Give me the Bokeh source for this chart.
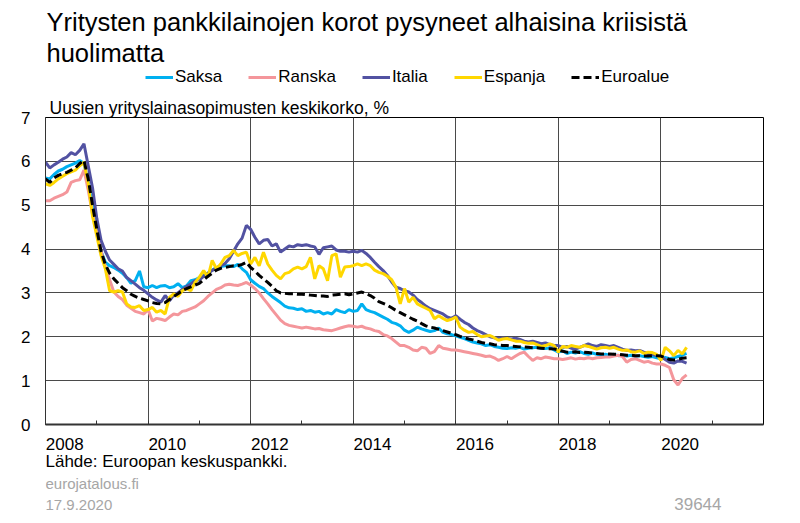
from bokeh.plotting import figure
from bokeh.models import (Range1d, FixedTicker, Label, Legend, LegendItem, Grid, Title)
from bokeh.layouts import column
from bokeh.embed import file_html
from bokeh.resources import INLINE

# Monthly data Jan 2008 - Jul 2020
start_year = 2008
saksa = [
    5.62, 5.60, 5.70, 5.78, 5.82, 5.88, 5.92, 5.96, 6.02, 5.95, 5.55, 4.95,
    4.40, 3.95, 3.70, 3.62, 3.58, 3.52, 3.45, 3.35, 3.22, 3.28, 3.50, 3.14,
    3.12, 3.17, 3.12, 3.16, 3.17, 3.12, 3.14, 3.21, 3.12, 3.16, 3.28, 3.30,
    3.35, 3.40, 3.45, 3.52, 3.58, 3.60, 3.62, 3.62, 3.60, 3.65, 3.55, 3.47,
    3.30, 3.22, 3.15, 3.10, 3.00, 2.92, 2.85, 2.78, 2.70, 2.66, 2.65, 2.62,
    2.64, 2.58, 2.60, 2.56, 2.58, 2.52, 2.55, 2.52, 2.62, 2.58, 2.55, 2.62,
    2.58, 2.60, 2.75, 2.62, 2.58, 2.55, 2.50, 2.45, 2.40, 2.33, 2.30, 2.25,
    2.15, 2.10, 2.15, 2.22, 2.18, 2.15, 2.12, 2.14, 2.20, 2.10, 2.07, 2.05,
    2.02, 1.99, 1.96, 1.92, 1.88, 1.86, 1.84, 1.80, 1.82, 1.78, 1.76, 1.74,
    1.73, 1.75, 1.74, 1.76, 1.72, 1.74, 1.75, 1.76, 1.74, 1.73, 1.75, 1.70,
    1.65, 1.68, 1.62, 1.65, 1.63, 1.66, 1.62, 1.60, 1.63, 1.60, 1.58, 1.60,
    1.58, 1.60, 1.57, 1.58, 1.56, 1.58, 1.55, 1.57, 1.55, 1.53, 1.55, 1.52,
    1.50, 1.53, 1.50, 1.52, 1.55, 1.58, 1.62,
]
ranska = [
    5.10, 5.10, 5.16, 5.20, 5.24, 5.30, 5.52, 5.56, 5.58, 5.80, 5.35, 4.80,
    4.40, 3.95, 3.60, 3.30, 3.02, 2.92, 2.85, 2.72, 2.65, 2.58, 2.55, 2.52,
    2.62, 2.36, 2.42, 2.40, 2.37, 2.45, 2.52, 2.50, 2.58, 2.60, 2.64, 2.68,
    2.75, 2.82, 2.92, 3.00, 3.08, 3.12, 3.18, 3.20, 3.18, 3.17, 3.20, 3.24,
    3.18, 3.10, 3.00, 2.87, 2.75, 2.62, 2.50, 2.38, 2.30, 2.26, 2.24, 2.22,
    2.20, 2.22, 2.20, 2.18, 2.19, 2.16, 2.15, 2.14, 2.17, 2.20, 2.23, 2.25,
    2.24, 2.22, 2.24, 2.20, 2.18, 2.14, 2.12, 2.05, 2.02, 1.96, 1.88, 1.80,
    1.80, 1.76, 1.70, 1.68, 1.76, 1.74, 1.62, 1.66, 1.80, 1.74, 1.72, 1.70,
    1.70, 1.68, 1.66, 1.64, 1.62, 1.60, 1.58, 1.55, 1.56, 1.52, 1.46, 1.50,
    1.55, 1.50, 1.56, 1.62, 1.65, 1.55, 1.46, 1.52, 1.50, 1.54, 1.52, 1.50,
    1.50, 1.48, 1.50, 1.52, 1.49, 1.51, 1.50, 1.52, 1.50, 1.52, 1.53, 1.54,
    1.54, 1.56, 1.58, 1.55, 1.42, 1.48, 1.50, 1.46, 1.42, 1.44, 1.40, 1.38,
    1.38, 1.35, 1.30, 1.02, 0.90, 1.05, 1.13,
]
italia = [
    5.98, 5.85, 5.92, 5.98, 6.05, 6.10, 6.20, 6.15, 6.25, 6.40, 5.90, 5.40,
    4.70, 4.20, 3.95, 3.75, 3.65, 3.55, 3.50, 3.35, 3.28, 3.20, 3.12, 3.06,
    2.98, 2.90, 2.84, 2.79, 2.94, 2.82, 2.95, 3.00, 3.08, 3.15, 3.20, 3.28,
    3.30, 3.38, 3.45, 3.51, 3.57, 3.62, 3.67, 3.78, 3.95, 4.12, 4.25, 4.54,
    4.45, 4.27, 4.12, 4.20, 4.22, 4.07, 4.12, 3.93, 4.00, 4.07, 4.05, 4.10,
    4.08, 4.10, 4.07, 4.05, 3.88, 4.03, 4.05, 4.07, 3.98, 3.95, 3.95, 3.93,
    3.95, 3.93, 3.97, 3.90, 3.81, 3.70, 3.60, 3.51, 3.40, 3.25, 3.13, 3.10,
    3.05, 3.02, 2.95, 2.85, 2.78, 2.70, 2.64, 2.60, 2.56, 2.52, 2.45, 2.42,
    2.48, 2.40, 2.33, 2.28, 2.20, 2.14, 2.10, 2.05, 2.00, 1.98, 1.96, 1.97,
    1.96, 1.95, 1.97, 1.94, 1.90, 1.88, 1.90, 1.87, 1.84, 1.86, 1.82, 1.80,
    1.80, 1.76, 1.78, 1.74, 1.72, 1.76, 1.80, 1.84, 1.80, 1.78, 1.82, 1.80,
    1.78, 1.80, 1.76, 1.72, 1.69, 1.70, 1.68, 1.69, 1.65, 1.62, 1.60, 1.57,
    1.55, 1.48, 1.42, 1.40, 1.45, 1.44, 1.40,
]
espanja = [
    5.49, 5.45, 5.52, 5.60, 5.66, 5.72, 5.76, 5.80, 5.90, 5.98, 5.50, 4.75,
    4.30, 3.85, 3.55, 3.05, 3.02, 3.05, 3.02, 2.75, 2.68, 2.67, 2.71, 2.60,
    2.62, 2.67, 2.56, 2.60, 2.52, 2.90, 2.98, 2.92, 3.05, 3.10, 3.05, 3.24,
    3.36, 3.51, 3.36, 3.74, 3.55, 3.66, 3.81, 3.85, 3.97, 3.85, 3.90, 3.93,
    3.66, 3.81, 3.62, 3.93, 3.66, 3.52, 3.40, 3.32, 3.44, 3.47, 3.55, 3.59,
    3.55, 3.60, 3.81, 3.32, 3.62, 3.55, 3.28, 3.85, 3.89, 3.36, 3.59, 3.60,
    3.62, 3.66, 3.62, 3.66, 3.62, 3.52, 3.47, 3.44, 3.38, 3.30, 3.13, 2.75,
    3.10, 2.79, 2.90, 2.75, 2.70, 2.65, 2.60, 2.41, 2.48, 2.42, 2.37, 2.40,
    2.45, 2.22, 2.15, 2.10, 2.12, 2.05, 2.00, 2.02, 2.03, 1.98, 1.92, 1.95,
    1.96, 1.93, 1.90, 1.90, 1.87, 1.85, 1.86, 1.82, 1.78, 1.80, 1.84, 1.80,
    1.65, 1.78, 1.76, 1.80, 1.78, 1.76, 1.80, 1.78, 1.75, 1.72, 1.75, 1.76,
    1.74, 1.76, 1.72, 1.69, 1.70, 1.66, 1.65, 1.68, 1.62, 1.65, 1.64, 1.60,
    1.46, 1.76, 1.68, 1.57, 1.69, 1.61, 1.76,
]
euroalue = [
    5.60, 5.52, 5.62, 5.68, 5.72, 5.75, 5.80, 5.85, 5.95, 6.02, 5.60, 5.00,
    4.45, 3.95, 3.65, 3.45, 3.32, 3.22, 3.12, 3.05, 2.97, 2.92, 2.88, 2.85,
    2.82, 2.78, 2.76, 2.75, 2.78, 2.85, 2.92, 2.98, 3.05, 3.10, 3.14, 3.18,
    3.22, 3.30, 3.38, 3.45, 3.52, 3.56, 3.58, 3.60, 3.62, 3.62, 3.65, 3.70,
    3.58, 3.50, 3.40, 3.32, 3.24, 3.15, 3.05, 3.00, 2.99, 2.98, 2.98, 2.97,
    2.97, 2.96, 2.95, 2.94, 2.93, 2.93, 2.92, 2.95, 2.96, 2.97, 2.98, 2.96,
    2.98, 3.00, 3.02, 2.98, 2.94, 2.88, 2.80, 2.76, 2.72, 2.66, 2.60, 2.55,
    2.50, 2.45, 2.40, 2.36, 2.30, 2.25, 2.22, 2.20, 2.17, 2.14, 2.11, 2.08,
    2.05, 2.01, 1.98, 1.95, 1.93, 1.90, 1.87, 1.85, 1.84, 1.82, 1.81, 1.80,
    1.80, 1.79, 1.78, 1.77, 1.77, 1.76, 1.75, 1.75, 1.74, 1.73, 1.73, 1.72,
    1.70, 1.67, 1.65, 1.65, 1.66, 1.64, 1.65, 1.64, 1.63, 1.62, 1.61, 1.61,
    1.61, 1.60, 1.60, 1.59, 1.58, 1.58, 1.57, 1.57, 1.56, 1.56, 1.57, 1.57,
    1.56, 1.52, 1.48, 1.47, 1.49, 1.51, 1.52,
]
series_names = ["Saksa", "Ranska", "Italia", "Espanja", "Euroalue"]
label_years = [2008, 2010, 2012, 2014, 2016, 2018, 2020]
y_ticks = [0, 1, 2, 3, 4, 5, 6, 7]

title_lines = ["Yritysten pankkilainojen korot pysyneet alhaisina kriisistä", "huolimatta"]
subtitle = "Uusien yrityslainasopimusten keskikorko, %"
source = "Lähde: Euroopan keskuspankki."
site = "eurojatalous.fi"
date = "17.9.2020"
chart_id = "39644"

FONT = "Liberation Sans"
colors = ["#00B0F0", "#F4969B", "#5252A2", "#FFD700", "black"]
dashes = ["solid", "solid", "solid", "solid", "8 4"]
data = [saksa, ranska, italia, espanja, euroalue]
x = [start_year + i / 12 for i in range(len(euroalue))]

W = 800
LEFT, RIGHT = 45, 37
TOP_H = 87
MAIN_TOP = 30
FRAME_H = 307
MAIN_BOT = 27
MAIN_H = MAIN_TOP + FRAME_H + MAIN_BOT
BOT_H = 523 - TOP_H - MAIN_H


def blank_fig(h):
    f = figure(width=W, height=h, output_backend="svg", toolbar_location=None,
               x_range=Range1d(0, 1), y_range=Range1d(0, 1),
               x_axis_type=None, y_axis_type=None,
               min_border_left=LEFT, min_border_right=RIGHT, min_border_top=0,
               min_border_bottom=0)
    f.outline_line_color = None
    f.grid.visible = False
    f.background_fill_color = "white"
    f.border_fill_color = "white"
    return f


def lab(f, text, xo, base_from_bottom, size, color="black", align="left"):
    # empirical shift so that the alphabetic baseline lands where wanted
    px = float(size.replace("px", ""))
    f.add_layout(Label(x=xo - LEFT, y=base_from_bottom + 0.42 * px,
                       x_units="screen", y_units="screen",
                       text=text, text_font=FONT, text_font_size=size,
                       text_color=color, text_align=align,
                       text_baseline="alphabetic"))


# ---------- top: title + legend ----------
top = blank_fig(TOP_H)
lab(top, title_lines[0], 46, TOP_H - 32, "25.5px")
lab(top, title_lines[1], 46, TOP_H - 63, "25.5px")

items = []
for name, col, d, ys in zip(series_names, colors, dashes, data):
    # series lie outside this strip's ranges: only the legend glyph shows
    r = top.line(x, ys, line_color=col, line_width=3, line_dash=d)
    items.append(LegendItem(label=name, renderers=[r]))
legend = Legend(items=items, orientation="horizontal", location=(145 - LEFT, 0),
                glyph_width=28, glyph_height=16, label_height=16,
                label_standoff=2, spacing=26, padding=0, margin=0,
                border_line_color=None, background_fill_alpha=0,
                label_text_font=FONT, label_text_font_size="17px",
                label_text_color="black")
top.add_layout(legend, "center")

# ---------- main chart ----------
p = figure(width=W, height=MAIN_H, frame_width=718, frame_height=FRAME_H,
           output_backend="svg", toolbar_location=None,
           x_range=Range1d(2008, 2022), y_range=Range1d(0, 7),
           min_border_left=LEFT, min_border_right=RIGHT, min_border_top=MAIN_TOP,
           min_border_bottom=MAIN_BOT)
p.background_fill_color = "white"
p.border_fill_color = "white"
p.outline_line_color = "black"
p.outline_line_width = 1
p.title.visible = False
p.add_layout(Title(text=subtitle, align="left", offset=4, standoff=0,
                   text_font=FONT, text_font_size="17.5px",
                   text_font_style="normal", text_color="black"), "above")

p.xgrid.visible = False
p.ygrid.ticker = FixedTicker(ticks=[1, 2, 3, 4, 5, 6, 7])
p.ygrid.grid_line_color = "#4a4a4a"
p.ygrid.grid_line_width = 1
vgrid = Grid(dimension=0, ticker=FixedTicker(ticks=label_years[1:]),
             grid_line_color="#4a4a4a", grid_line_width=1)
p.add_layout(vgrid)

off = 0.375  # labels sit just right of their gridline
xt = [yv + off for yv in label_years]
p.xaxis.ticker = FixedTicker(ticks=xt, minor_ticks=list(range(2009, 2022)))
p.xaxis.major_label_overrides = {t: str(yv) for t, yv in zip(xt, label_years)}
p.xaxis.major_tick_line_color = None
p.xaxis.major_tick_in = 0
p.xaxis.major_tick_out = 0
p.xaxis.minor_tick_in = 4
p.xaxis.minor_tick_out = 0
p.xaxis.minor_tick_line_color = "#333333"
p.xaxis.axis_line_color = "#333333"
p.xaxis.axis_line_width = 2
p.xaxis.major_label_text_font = FONT
p.xaxis.major_label_text_font_size = "17px"
p.xaxis.major_label_text_color = "black"
p.xaxis.major_label_standoff = 13

p.yaxis.ticker = FixedTicker(ticks=y_ticks)
p.yaxis.major_tick_line_color = None
p.yaxis.major_tick_in = 0
p.yaxis.major_tick_out = 0
p.yaxis.minor_tick_line_color = None
p.yaxis.axis_line_color = "#333333"
p.yaxis.axis_line_width = 1
p.yaxis.major_label_text_font = FONT
p.yaxis.major_label_text_font_size = "17px"
p.yaxis.major_label_text_color = "black"
p.yaxis.major_label_standoff = 15

for name, col, d, ys in zip(series_names, colors, dashes, data):
    p.line(x, ys, line_color=col, line_width=3, line_dash=d)

# ---------- bottom: source ----------
bot = blank_fig(BOT_H)
lab(bot, source, 45, 523 - 467.5, "17px")
lab(bot, site, 45, 523 - 488, "15px", "#A6A6A6")
lab(bot, date, 45, 523 - 510, "15px", "#A6A6A6")
lab(bot, chart_id, 721, 523 - 510, "17px", "#A6A6A6", "right")

layout = column(top, p, bot, spacing=0)
open("out.html", "w").write(file_html(layout, INLINE))
